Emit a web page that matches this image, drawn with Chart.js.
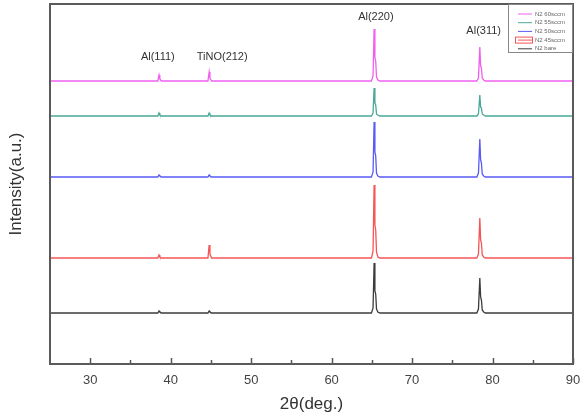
<!DOCTYPE html>
<html>
<head>
<meta charset="utf-8">
<script src="https://cdn.jsdelivr.net/npm/chart.js@4/dist/chart.umd.min.js"></script>
<style>
  body { margin: 0; background: #fff; }
  #wrap { width: 585px; height: 416px; }
</style>
</head>
<body>
<div id="wrap"><canvas id="xrd" width="585" height="416"></canvas></div>
<script>
// 2theta sample points (deg.)
const twoTheta = [25, 38.4, 38.55, 38.65, 38.85, 44.63, 44.78, 44.88, 45.08, 64.95, 65.15, 65.28, 65.38, 65.48, 65.58, 65.75, 66.0, 78.05, 78.25, 78.42, 78.52, 78.62, 78.72, 78.9, 79.1, 90];

// stacked intensities (a.u., offset per sample)
const n2_60 = [283, 283, 289, 285, 283, 283, 292, 286, 283, 283, 288, 335, 306, 303, 287, 284, 283, 283, 286, 317, 298, 296, 286, 284, 283, 283];
const n2_55 = [248, 248, 251, 249, 248, 248, 251, 249, 248, 248, 251, 276, 261, 259, 250, 249, 248, 248, 250, 269, 257, 256, 250, 249, 248, 248];
const n2_50 = [187, 187, 189, 188, 187, 187, 189, 188, 187, 187, 192, 242, 212, 208, 191, 188, 187, 187, 191, 225, 204, 201, 190, 188, 187, 187];
const n2_45 = [106, 106, 109, 107, 106, 106, 119, 110, 106, 106, 113, 179, 139, 134, 112, 107, 106, 106, 110, 146, 124, 121, 109, 107, 106, 106];
const n2_bare = [51, 51, 53, 52, 51, 51, 53, 52, 51, 51, 56, 101, 73, 70, 55, 52, 51, 51, 55, 86, 67, 64, 54, 52, 51, 51];

const seriesNames = ["N2 60sccm", "N2 55sccm", "N2 50sccm", "N2 45sccm", "N2 bare"];
const seriesColors = ["#f060f0", "#4aa898", "#5a5af5", "#f55555", "#3c3c3c"];
const seriesData = [n2_60, n2_55, n2_50, n2_45, n2_bare];

const xTicks = [30, 40, 50, 60, 70, 80, 90];
const xMinorTicks = [35, 45, 55, 65, 75, 85];

// peak annotations
const peakLabels = ["Al(111)", "TiNO(212)", "Al(220)", "Al(311)"];
const peakLabelX = [38.4, 46.4, 65.5, 78.9];
const peakLabelY = [307, 307, 347, 333];

// frame, inside ticks, peak labels, legend
const decorPlugin = {
  id: "decor",
  afterDraw(chart) {
    const ctx = chart.ctx;
    const a = chart.chartArea;
    const xs = chart.scales.x;
    const ys = chart.scales.y;
    ctx.save();

    // ticks pointing inward
    ctx.strokeStyle = "#555";
    ctx.lineWidth = 1.5;
    xTicks.forEach((v) => {
      const px = Math.round(xs.getPixelForValue(v)) + 0.5;
      ctx.beginPath();
      ctx.moveTo(px, a.bottom);
      ctx.lineTo(px, a.bottom - 6);
      ctx.stroke();
    });
    xMinorTicks.forEach((v) => {
      const px = Math.round(xs.getPixelForValue(v)) + 0.5;
      ctx.beginPath();
      ctx.moveTo(px, a.bottom);
      ctx.lineTo(px, a.bottom - 4);
      ctx.stroke();
    });

    // frame
    ctx.strokeStyle = "#5a5a5a";
    ctx.lineWidth = 2;
    ctx.strokeRect(a.left, a.top, a.right - a.left, a.bottom - a.top);

    // peak labels
    ctx.fillStyle = "#333";
    ctx.font = "11px 'Liberation Sans', Arial, sans-serif";
    ctx.textAlign = "center";
    ctx.textBaseline = "middle";
    peakLabels.forEach((t, i) => {
      ctx.fillText(t, xs.getPixelForValue(peakLabelX[i]), ys.getPixelForValue(peakLabelY[i]));
    });

    // legend box
    const lx = 508, ly = a.top, lw = a.right - 508, lh = 48;
    ctx.fillStyle = "#fff";
    ctx.fillRect(lx, ly, lw, lh);
    ctx.strokeStyle = "#888";
    ctx.lineWidth = 1;
    ctx.strokeRect(lx + 0.5, ly + 0.5, lw - 1, lh);
    ctx.font = "6px 'Liberation Sans', Arial, sans-serif";
    ctx.textAlign = "left";
    seriesNames.forEach((name, i) => {
      const y = ly + 10 + i * 8.7;
      ctx.strokeStyle = seriesColors[i];
      ctx.lineWidth = 1;
      ctx.beginPath();
      ctx.moveTo(518, y);
      ctx.lineTo(532, y);
      ctx.stroke();
      if (i === 3) {
        ctx.strokeStyle = "#f55555";
        ctx.strokeRect(515.5, y - 3, 17, 6);
      }
      ctx.fillStyle = "#666";
      ctx.fillText(name, 535, y);
    });
    ctx.restore();
  },
};

new Chart(document.getElementById("xrd"), {
  type: "line",
  data: {
    datasets: seriesData.map((ys, i) => ({
      label: seriesNames[i],
      data: twoTheta.map((x, j) => ({ x: x, y: ys[j] })),
      borderColor: seriesColors[i],
      borderWidth: 1.3,
      pointRadius: 0,
      tension: 0,
      fill: false,
    })),
  },
  options: {
    responsive: false,
    animation: false,
    layout: { padding: { top: 4, right: 12, left: 0, bottom: 0 } },
    plugins: { legend: { display: false }, tooltip: { enabled: false } },
    scales: {
      x: {
        type: "linear",
        min: 25,
        max: 90,
        afterFit(scale) {
          scale.height = 52;
          scale.paddingLeft = 0;
          scale.paddingRight = 0;
        },
        afterBuildTicks(scale) { scale.ticks = xTicks.map((v) => ({ value: v })); },
        grid: { display: false, drawTicks: false },
        border: { display: false },
        ticks: {
          padding: 9,
          color: "#444",
          font: { family: "'Liberation Sans', Arial, sans-serif", size: 13 },
        },
        title: {
          display: true,
          text: "2θ(deg.)",
          color: "#333",
          padding: { top: 0, bottom: 1 },
          font: { family: "'Liberation Sans', Arial, sans-serif", size: 17 },
        },
      },
      y: {
        min: 0,
        max: 360,
        afterFit(scale) { scale.width = 50; },
        grid: { display: false, drawTicks: false },
        border: { display: false },
        ticks: { display: false },
        title: {
          display: true,
          text: "Intensity(a.u.)",
          color: "#333",
          padding: { top: 6, bottom: 0 },
          font: { family: "'Liberation Sans', Arial, sans-serif", size: 17 },
        },
      },
    },
  },
  plugins: [decorPlugin],
});
</script>
</body>
</html>
